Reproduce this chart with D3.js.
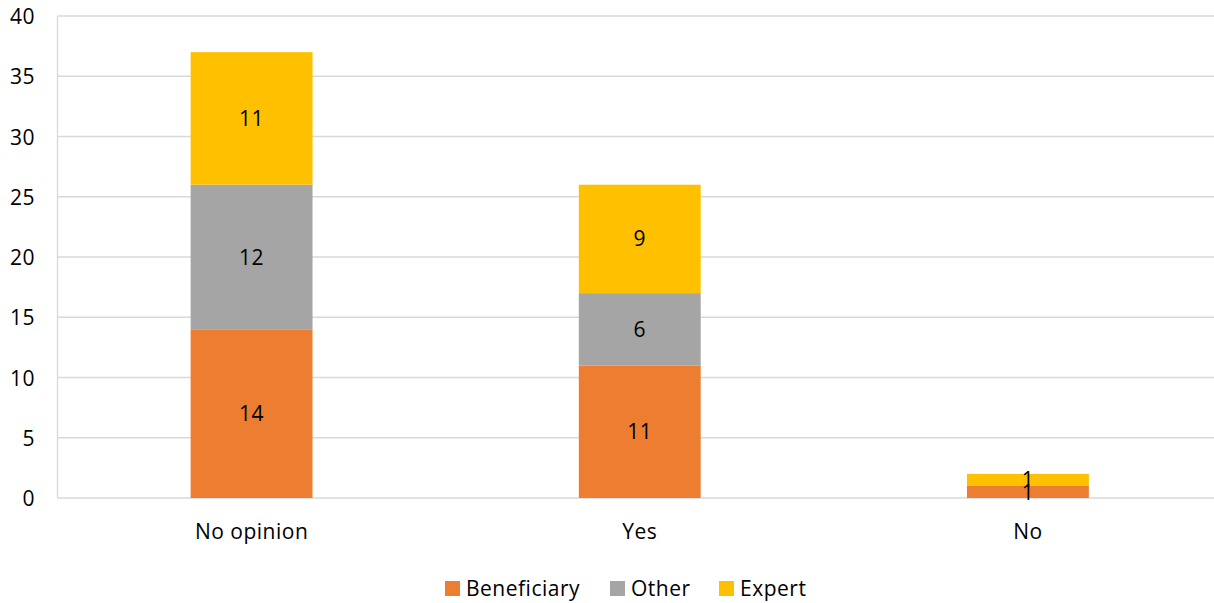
<!DOCTYPE html>
<html>
<head>
<meta charset="utf-8">
<script src="https://cdn.jsdelivr.net/npm/d3@7"></script>
<style>
  html, body { margin: 0; padding: 0; background: #fff; overflow: hidden; }
  svg { display: block; font-family: "Open Sans", sans-serif; }
  svg text { letter-spacing: 0.5px; }
</style>
</head>
<body>
<svg id="chart" width="1214" height="603"></svg>
<script>
const categories = ["No opinion", "Yes", "No"];
const seriesNames = ["Beneficiary", "Other", "Expert"];
const beneficiary = [14, 11, 1];
const other = [12, 6, 0];
const expert = [11, 9, 1];
const yTicks = [0, 5, 10, 15, 20, 25, 30, 35, 40];
const colors = ["#ED7D31", "#A5A5A5", "#FFC000"];

(function () {
const svg = d3.select("#chart");
const plotLeft = 57.5, plotRight = 1222, plotTop = 16, plotBottom = 498;
const fs = 21;

const x = d3.scaleBand().domain(categories).range([plotLeft, plotRight])
  .paddingInner(0.686).paddingOuter(0.343);
const y = d3.scaleLinear().domain([0, 40]).range([plotBottom, plotTop]);

// gridlines
svg.append("g").selectAll("line").data(yTicks).join("line")
  .attr("x1", plotLeft).attr("x2", 1214)
  .attr("y1", d => y(d)).attr("y2", d => y(d))
  .attr("stroke", "#d9d9d9").attr("stroke-width", 1.3);
// y axis line
svg.append("line").attr("x1", plotLeft).attr("x2", plotLeft).attr("y1", y(40)).attr("y2", y(0))
  .attr("stroke", "#d9d9d9").attr("stroke-width", 1.3);

// y axis labels
const yAxis = d3.axisLeft(y).tickValues(yTicks).tickSize(0).tickPadding(0);
const yg = svg.append("g").attr("transform", "translate(35,0)").call(yAxis);
yg.select(".domain").remove();
yg.selectAll("text").attr("font-size", fs).attr("font-family", "Open Sans, sans-serif")
  .attr("fill", "#000").attr("dy", "0.36em");

// stacked data
const rows = categories.map((c, i) => ({ cat: c, Beneficiary: beneficiary[i], Other: other[i], Expert: expert[i] }));
const stack = d3.stack().keys(seriesNames)(rows);

const layers = svg.append("g").selectAll("g").data(stack).join("g")
  .attr("fill", (d, i) => colors[i]);
layers.selectAll("rect").data(d => d.filter(s => s[1] - s[0] > 0)).join("rect")
  .attr("x", d => x(d.data.cat))
  .attr("width", x.bandwidth())
  .attr("y", d => y(d[1]))
  .attr("height", d => y(d[0]) - y(d[1]));

// labels
const labG = svg.append("g");
stack.forEach(layer => {
  layer.forEach(s => {
    const v = s[1] - s[0];
    if (v <= 0) return;
    labG.append("text")
      .attr("x", x(s.data.cat) + x.bandwidth() / 2)
      .attr("y", (y(s[0]) + y(s[1])) / 2)
      .attr("dy", "0.36em")
      .attr("text-anchor", "middle")
      .attr("font-size", fs)
      .attr("fill", "#000")
      .text(v);
  });
});

// x axis labels
const xAxis = d3.axisBottom(x).tickSize(0).tickPadding(0);
const xg = svg.append("g").attr("transform", "translate(0,539)").call(xAxis);
xg.select(".domain").remove();
xg.selectAll("text").attr("font-size", fs).attr("font-family", "Open Sans, sans-serif")
  .attr("fill", "#000").attr("dy", 0).attr("y", 0);

// legend
const legendX = [445, 610, 719];
const lg = svg.append("g");
seriesNames.forEach((n, i) => {
  lg.append("rect").attr("x", legendX[i]).attr("y", 581).attr("width", 15).attr("height", 15)
    .attr("fill", colors[i]);
  lg.append("text").attr("x", legendX[i] + 21).attr("y", 596)
    .attr("font-size", fs).attr("fill", "#000").text(n);
});
})();
</script>
</body>
</html>
